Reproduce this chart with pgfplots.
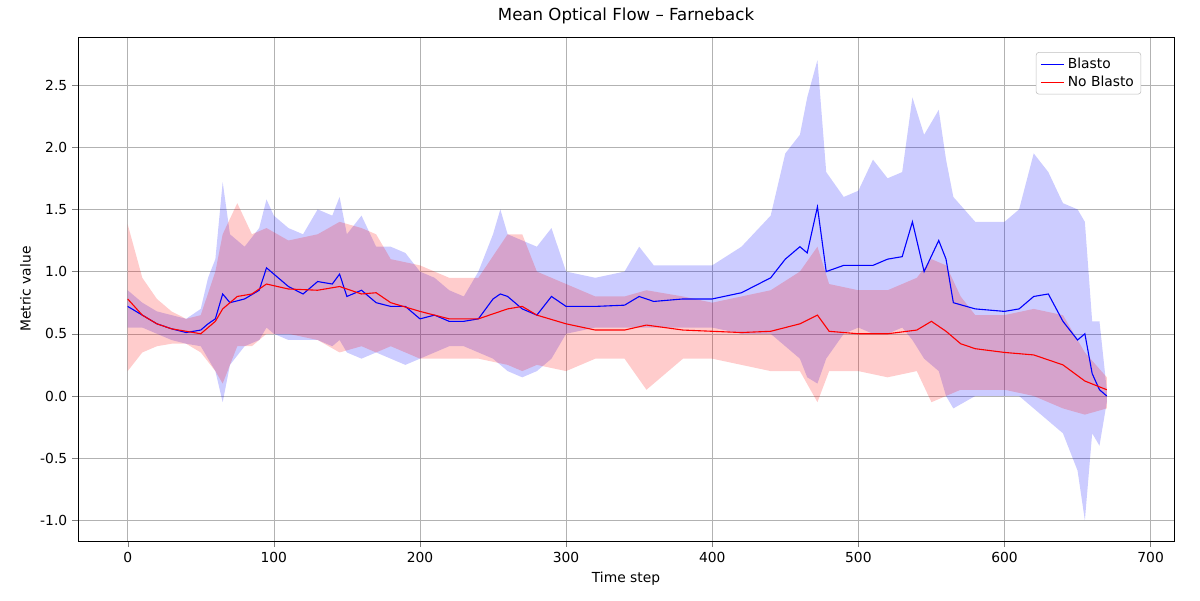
\documentclass[border=0pt]{standalone}
\usepackage{fontspec}
\setmainfont{DejaVu Sans}
\usepackage{pgfplots}
\usepackage{pgfplotstable}
\pgfplotsset{compat=1.18}
\usepgfplotslibrary{fillbetween}
\pgfplotstableread{
x m lo hi
0 0.72 0.55 0.85
10 0.65 0.55 0.75
20 0.58 0.50 0.68
30 0.54 0.45 0.65
40 0.51 0.42 0.62
50 0.53 0.40 0.70
55 0.58 0.30 0.95
60 0.62 0.20 1.10
65 0.82 -0.05 1.72
70 0.75 0.25 1.30
80 0.78 0.40 1.20
90 0.85 0.45 1.35
95 1.03 0.55 1.58
100 0.98 0.50 1.45
110 0.88 0.45 1.35
120 0.82 0.45 1.30
130 0.92 0.45 1.50
140 0.90 0.40 1.45
145 0.98 0.45 1.60
150 0.80 0.35 1.30
160 0.85 0.30 1.45
170 0.75 0.35 1.20
180 0.72 0.30 1.20
190 0.72 0.25 1.15
200 0.62 0.30 1.00
210 0.65 0.35 0.95
220 0.60 0.40 0.85
230 0.60 0.40 0.80
240 0.62 0.35 1.00
250 0.78 0.30 1.30
255 0.82 0.25 1.50
260 0.80 0.20 1.30
270 0.70 0.15 1.25
280 0.65 0.20 1.20
290 0.80 0.30 1.35
300 0.72 0.50 1.00
320 0.72 0.55 0.95
340 0.73 0.55 1.00
350 0.80 0.55 1.20
360 0.76 0.55 1.05
380 0.78 0.55 1.05
400 0.78 0.55 1.05
420 0.83 0.50 1.20
440 0.95 0.50 1.45
450 1.10 0.40 1.95
460 1.20 0.30 2.10
465 1.15 0.15 2.40
472 1.52 0.10 2.70
478 1.00 0.30 1.80
490 1.05 0.50 1.60
500 1.05 0.55 1.65
510 1.05 0.50 1.90
520 1.10 0.50 1.75
530 1.12 0.55 1.80
537 1.40 0.45 2.40
545 1.00 0.30 2.10
555 1.25 0.20 2.30
560 1.10 0.00 1.90
565 0.75 -0.10 1.60
580 0.70 0.00 1.40
600 0.68 0.00 1.40
610 0.70 0.00 1.50
620 0.80 -0.10 1.95
630 0.82 -0.20 1.80
640 0.60 -0.30 1.55
650 0.45 -0.60 1.50
655 0.50 -1.00 1.40
660 0.18 -0.30 0.60
665 0.05 -0.40 0.60
670 0.00 -0.05 0.05
}\blasto
\pgfplotstableread{
x m lo hi
0 0.78 0.20 1.38
10 0.65 0.35 0.95
20 0.58 0.40 0.78
30 0.54 0.42 0.68
40 0.52 0.42 0.62
50 0.50 0.35 0.65
60 0.60 0.20 1.00
65 0.70 0.10 1.30
75 0.80 0.40 1.55
85 0.82 0.40 1.30
95 0.90 0.50 1.35
110 0.86 0.50 1.25
130 0.85 0.45 1.30
145 0.88 0.35 1.40
160 0.82 0.40 1.35
170 0.83 0.35 1.30
180 0.75 0.40 1.10
200 0.68 0.30 1.05
220 0.62 0.30 0.95
240 0.62 0.30 0.95
260 0.70 0.25 1.30
270 0.72 0.20 1.30
280 0.65 0.25 1.00
300 0.58 0.20 0.90
320 0.53 0.30 0.80
340 0.53 0.30 0.80
355 0.57 0.05 0.85
380 0.53 0.30 0.80
400 0.52 0.30 0.75
420 0.51 0.25 0.80
440 0.52 0.20 0.85
460 0.58 0.20 1.00
472 0.65 -0.05 1.20
480 0.52 0.20 0.90
500 0.50 0.20 0.85
520 0.50 0.15 0.85
540 0.53 0.20 0.95
550 0.60 -0.05 1.10
560 0.52 0.00 1.05
570 0.42 0.05 0.80
580 0.38 0.05 0.65
600 0.35 0.05 0.65
620 0.33 0.00 0.70
640 0.25 -0.10 0.65
655 0.12 -0.15 0.35
670 0.05 -0.10 0.15
}\noblasto
\begin{document}
\begin{tikzpicture}
\begin{axis}[
  scale only axis, width=10.96in, height=5.04in,
  xmin=-34, xmax=716, ymin=-1.166, ymax=2.886,
  xtick={0,100,...,700}, ytick={-1,-0.5,0,0.5,1,1.5,2,2.5},
  yticklabel style={/pgf/number format/.cd,fixed,fixed zerofill,precision=1},
  /pgf/number format/assume math mode=true,
  tick align=outside, tick pos=left,
  grid=major, grid style={gray!60},
  xlabel={Time step}, ylabel={Metric value},
  title={Mean Optical Flow – Farneback},
  title style={font=\large},
  legend pos=north east, legend cell align=left,
  legend style={draw=gray!50, rounded corners=2pt, font=\normalsize},
]
\addplot[draw=none, name path=bh, forget plot] table[x=x,y=hi]{\blasto};
\addplot[draw=none, name path=bl, forget plot] table[x=x,y=lo]{\blasto};
\addplot[blue, fill opacity=0.2, forget plot] fill between[of=bh and bl];
\addplot[draw=none, name path=nh, forget plot] table[x=x,y=hi]{\noblasto};
\addplot[draw=none, name path=nl, forget plot] table[x=x,y=lo]{\noblasto};
\addplot[red, fill opacity=0.2, forget plot] fill between[of=nh and nl];
\addplot[blue, thick] table[x=x,y=m]{\blasto};
\addlegendentry{Blasto}
\addplot[red, thick] table[x=x,y=m]{\noblasto};
\addlegendentry{No Blasto}
\end{axis}
\useasboundingbox ([xshift=-0.78in,yshift=-0.59in]current axis.south west) rectangle ([xshift=0.26in,yshift=0.37in]current axis.north east);
\end{tikzpicture}
\end{document}
